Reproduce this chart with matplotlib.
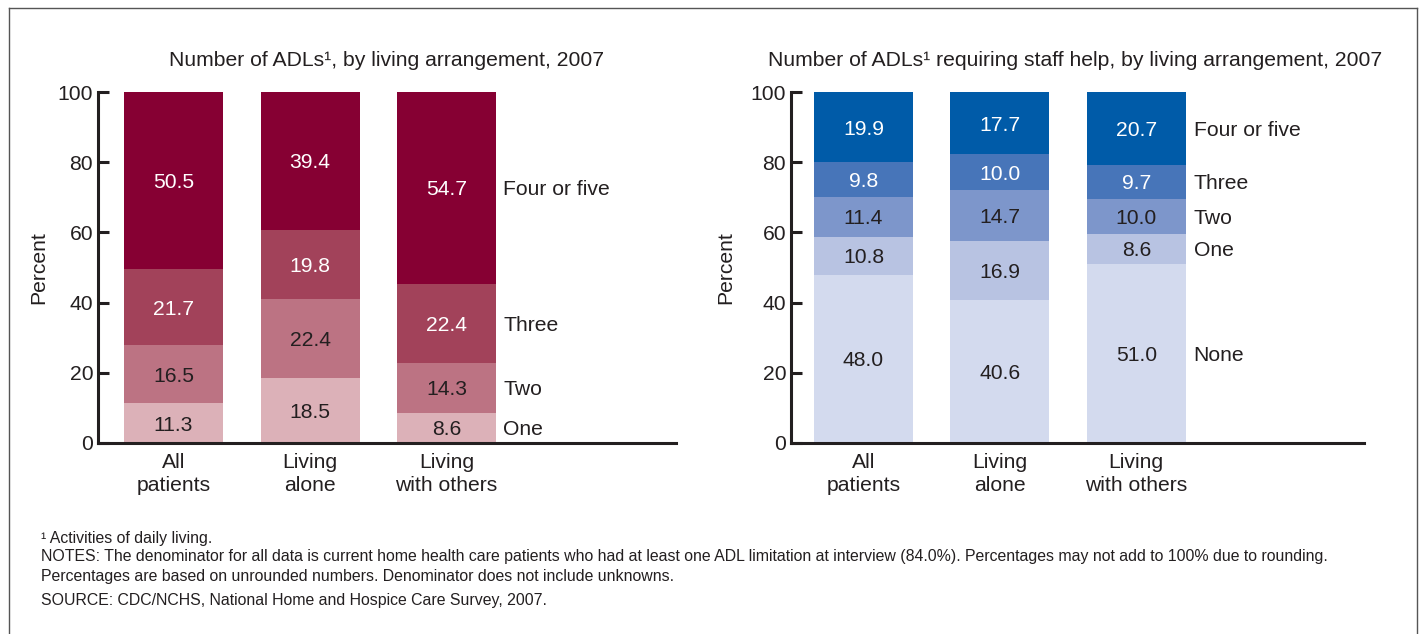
import matplotlib.pyplot as plt
from matplotlib.lines import Line2D
import numpy as np

plt.rcParams['font.family'] = ['Liberation Sans', 'DejaVu Sans']

categories = ["All\npatients", "Living\nalone", "Living\nwith others"]

# left panel: number of ADLs
adl_levels = ["One", "Two", "Three", "Four or five"]
adl_one = [11.3, 18.5, 8.6]
adl_two = [16.5, 22.4, 14.3]
adl_three = [21.7, 19.8, 22.4]
adl_four_five = [50.5, 39.4, 54.7]
adl_colors = ["#dcb1b8", "#bc7383", "#a2425a", "#860033"]
adl_text = ["#231f20", "#231f20", "white", "white"]

# right panel: number of ADLs requiring staff help
help_levels = ["None", "One", "Two", "Three", "Four or five"]
help_none = [48.0, 40.6, 51.0]
help_one = [10.8, 16.9, 8.6]
help_two = [11.4, 14.7, 10.0]
help_three = [9.8, 10.0, 9.7]
help_four_five = [19.9, 17.7, 20.7]
help_colors = ["#d3daee", "#b8c3e2", "#7d96cb", "#4775b9", "#005ba8"]
help_text = ["#231f20", "#231f20", "#231f20", "white", "white"]

dark = "#231f20"
FS = 15.2
W, H = 1424, 634
fig = plt.figure(figsize=(W / 100, H / 100), dpi=100)


def px_axes(x0, x1, y_top, y_bot):
    return fig.add_axes([x0 / W, (H - y_bot) / H, (x1 - x0) / W, (y_bot - y_top) / H])


def stacked(ax, series, levels, colors, txtcols, xlim, label_x):
    x = np.arange(len(categories))
    bottom = np.zeros(len(categories))
    for vals, name, col, tc in zip(series, levels, colors, txtcols):
        vals = np.array(vals)
        ax.bar(x, vals, bottom=bottom, width=0.725, color=col, linewidth=0)
        for xi, b, v in zip(x, bottom, vals):
            ax.text(xi, b + v / 2, f"{v:.1f}", ha="center", va="center_baseline",
                    fontsize=FS, color=tc)
        ax.text(label_x, bottom[-1] + vals[-1] / 2, name, ha="left",
                va="center_baseline", fontsize=FS, color=dark)
        bottom += vals
    ax.set_xlim(*xlim)
    ax.set_ylim(0, 100)
    ax.set_yticks([0, 20, 40, 60, 80, 100])
    ax.set_xticks(x)
    ax.set_xticklabels(categories, fontsize=FS, color=dark, linespacing=1.3)
    ax.tick_params(axis="x", length=0, pad=7)
    ax.tick_params(axis="y", direction="in", length=8, width=2.2, color=dark,
                   labelsize=FS, labelcolor=dark, pad=3.5)
    for s in ["top", "right"]:
        ax.spines[s].set_visible(False)
    for s in ["left", "bottom"]:
        ax.spines[s].set_linewidth(2.2)
        ax.spines[s].set_color(dark)
    ax.set_ylabel("Percent", fontsize=FS, color=dark)


ax1 = px_axes(98, 676, 92, 443)
stacked(ax1, [adl_one, adl_two, adl_three, adl_four_five], adl_levels,
        adl_colors, adl_text, (-0.553, 3.68), 2.414)
ax1.yaxis.set_label_coords(-0.0865, 0.5)

ax2 = px_axes(791, 1364, 92, 443)
stacked(ax2, [help_none, help_one, help_two, help_three, help_four_five],
        help_levels, help_colors, help_text, (-0.532, 3.67), 2.42)
ax2.yaxis.set_label_coords(-0.0977, 0.5)

fig.text(387 / W, 1 - 61 / H, "Number of ADLs¹, by living arrangement, 2007",
         ha="center", va="center", fontsize=FS, color=dark)
fig.text(1075 / W, 1 - 61 / H,
         "Number of ADLs¹ requiring staff help, by living arrangement, 2007",
         ha="center", va="center", fontsize=FS, color=dark)

notes = [
    (538, "¹ Activities of daily living."),
    (556, "NOTES: The denominator for all data is current home health care patients who had at least one ADL "
          "limitation at interview (84.0%). Percentages may not add to 100% due to rounding."),
    (576, "Percentages are based on unrounded numbers. Denominator does not include unknowns."),
    (601, "SOURCE: CDC/NCHS, National Home and Hospice Care Survey, 2007."),
]
for y, t in notes:
    fig.text(41 / W, 1 - y / H, t, ha="left", va="center", fontsize=11.4, color=dark)

# outer frame (open at the bottom)
fx0, fx1, fy0 = 9 / W, 1417 / W, 1 - 8 / H
for xs, ys in [([fx0, fx0], [-0.1, fy0]), ([fx0, fx1], [fy0, fy0]), ([fx1, fx1], [fy0, -0.1])]:
    fig.add_artist(Line2D(xs, ys, color="#555555", linewidth=1))

fig.savefig("out.png", dpi=100)
